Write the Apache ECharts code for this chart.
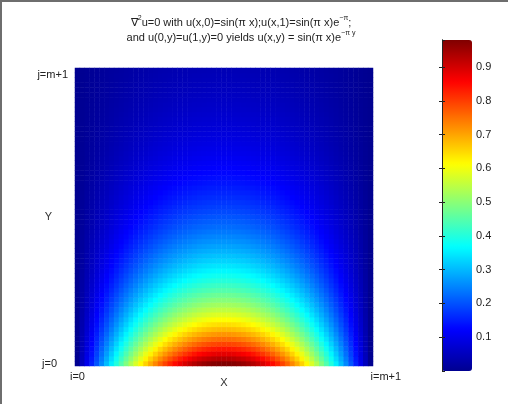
<!DOCTYPE html>
<html>
<head>
<meta charset="utf-8">
<script src="https://cdn.jsdelivr.net/npm/echarts@6/dist/echarts.min.js"></script>
<style>
html,body{margin:0;padding:0;background:#fff;}
#c{width:508px;height:404px;}
</style>
</head>
<body>
<div id="c"></div>
<script>
// values along the bottom row (j=0), read left to right (i=0 .. i=m+1)
const bottomRow = [0, .051, .102, .153, .204, .254, .303, .351, .399, .445, .490, .534, .576, .617, .656, .693, .728, .762, .793, .822,
  .849, .873, .895, .915, .932, .947, .959, .968, .975, .979, .980,
  .979, .975, .968, .959, .947, .932, .915, .895, .873, .849, .822, .793, .762, .728, .693, .656, .617, .576, .534, .490,
  .445, .399, .351, .303, .254, .204, .153, .102, .051, 0];
// values along the centre column, read bottom (j=0) to top (j=m+1)
const centerCol = [.980, .930, .883, .838, .795, .754, .716, .679, .645, .612, .581, .551, .523, .496, .471, .447, .424, .402, .382, .362,
  .344, .326, .310, .294, .279, .265, .251, .238, .226, .215, .204, .193, .183, .174, .165, .157, .149, .141, .134, .127,
  .121, .115, .109, .103, .098, .093, .088, .084, .079, .075, .072, .068, .064, .061, .058, .055, .052, .050, .047, .045, .042];
const xTickLabels = ['i=0', 'i=m+1'];
const yTickLabels = ['j=0', 'j=m+1'];
const colorbarMin = 0;
const colorbarMax = 0.98;
const colorbarTicks = [0.1, 0.2, 0.3, 0.4, 0.5, 0.6, 0.7, 0.8, 0.9];

const nx = bottomRow.length, ny = centerCol.length;
const peak = bottomRow[Math.floor(nx / 2)];
const xCats = bottomRow.map((_, i) => String(i));
const yCats = centerCol.map((_, j) => String(j));
const cells = [];
for (let i = 0; i < nx; i++) {
  for (let j = 0; j < ny; j++) {
    cells.push([i, j, +(bottomRow[i] * centerCol[j] / peak).toFixed(4)]);
  }
}

const FONT = 'Liberation Sans, Arial, sans-serif';
const chart = echarts.init(document.getElementById('c'), null, {renderer: 'canvas'});
const cbAxisCommon = {
  type: 'value', gridIndex: 1, min: colorbarMin, max: colorbarMax, interval: 0.1, z: 10,
  axisLine: {show: true, lineStyle: {color: '#222', width: 1}},
  axisTick: {show: true, inside: true, length: 3, lineStyle: {color: '#222'}},
  splitLine: {show: false}
};
chart.setOption({
  animation: false,
  backgroundColor: '#fff',
  title: {
    text: '∇{sup|2}u=0 with u(x,0)=sin(π x);u(x,1)=sin(π x)e{sup|−π};\nand u(0,y)=u(1,y)=0 yields u(x,y) = sin(π x)e{sup|−π y}',
    left: 236, top: 10, textAlign: 'center',
    textStyle: {
      fontFamily: FONT, fontSize: 11, fontWeight: 'normal', color: '#222', lineHeight: 15,
      rich: {sup: {fontFamily: FONT, fontSize: 7, color: '#222', verticalAlign: 'top', lineHeight: 15, padding: [0, 0, 6, 0]}}
    }
  },
  graphic: [
    {type: 'rect', shape: {x: 0, y: 0, width: 508, height: 2}, style: {fill: '#6e6e6e'}, silent: true},
    {type: 'rect', shape: {x: 0, y: 0, width: 2, height: 404}, style: {fill: '#6e6e6e'}, silent: true}
  ],
  grid: [
    {left: 75, top: 68, width: 298, height: 298},
    {left: 442, top: 40, width: 30, height: 331}
  ],
  xAxis: [
    {
      type: 'category', gridIndex: 0, data: xCats, boundaryGap: true,
      name: 'X', nameLocation: 'middle', nameGap: 11, nameMoveOverlap: false,
      nameTextStyle: {fontFamily: FONT, fontSize: 11, color: '#333'},
      axisLine: {show: false}, axisTick: {show: false}, splitLine: {show: false},
      axisLabel: {
        interval: 0, margin: 5, fontFamily: FONT, fontSize: 11, color: '#222',
        alignMaxLabel: 'left',
        formatter: (v, idx) => idx === 0 ? xTickLabels[0] : (idx === nx - 1 ? xTickLabels[1] : '')
      }
    },
    {type: 'value', gridIndex: 1, show: false, min: 0, max: 1}
  ],
  yAxis: [
    {
      type: 'category', gridIndex: 0, data: yCats, boundaryGap: true,
      name: 'Y', nameLocation: 'middle', nameGap: 23, nameRotate: 0, nameMoveOverlap: false,
      nameTextStyle: {fontFamily: FONT, fontSize: 11, color: '#333'},
      axisLine: {show: false}, axisTick: {show: false}, splitLine: {show: false},
      axisLabel: {
        interval: 0, margin: 7, fontFamily: FONT, fontSize: 11, color: '#222',
        formatter: (v, idx) => idx === 0 ? '{a|' + yTickLabels[0] + '}' : (idx === ny - 1 ? '{b|' + yTickLabels[1] + '}' : ''),
        rich: {
          a: {fontFamily: FONT, fontSize: 11, color: '#222', padding: [0, 11, 0, 0]},
          b: {fontFamily: FONT, fontSize: 11, color: '#222', padding: [10, 0, 0, 0]}
        }
      }
    },
    Object.assign({}, cbAxisCommon, {
      position: 'right',
      axisLabel: {
        show: true, margin: 4, fontFamily: FONT, fontSize: 11, color: '#222', showMaxLabel: false, showMinLabel: false,
        formatter: v => colorbarTicks.some(t => Math.abs(t - v) < 1e-6) ? v.toFixed(1) : ''
      }
    }),
    Object.assign({}, cbAxisCommon, {position: 'left', axisLabel: {show: false}})
  ],
  visualMap: {
    type: 'continuous', min: colorbarMin, max: colorbarMax, seriesIndex: 0,
    calculable: false, realtime: false, hoverLink: false,
    left: 442, top: 40, itemWidth: 30, itemHeight: 331, padding: 0,
    text: null, textGap: 0, showLabel: false,
    inRange: {color: ['#000090', '#0000ff', '#0080ff', '#00ffff', '#80ff80', '#ffff00', '#ff8000', '#ff0000', '#800000']}
  },
  series: [{
    type: 'heatmap', xAxisIndex: 0, yAxisIndex: 0, data: cells,
    progressive: 0,
    itemStyle: {borderWidth: 0},
    emphasis: {disabled: true}
  }]
});
</script>
</body>
</html>
